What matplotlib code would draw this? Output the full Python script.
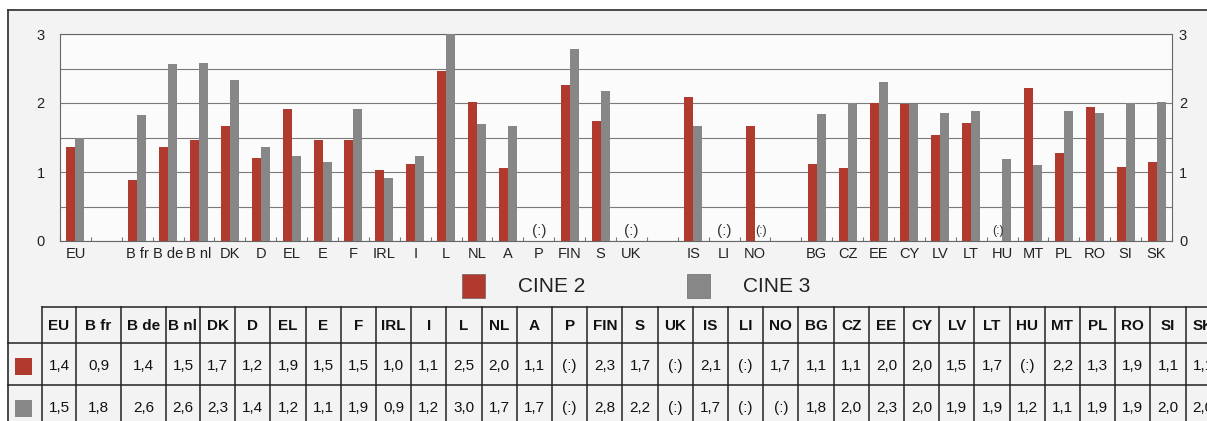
import matplotlib
matplotlib.use('Agg')
import matplotlib.pyplot as plt
import numpy as np
from matplotlib.patches import Rectangle
from matplotlib.lines import Line2D

plt.rcParams['font.family'] = ['Liberation Sans', 'DejaVu Sans']

# ---------------- data ----------------
group_eu = ['EU']
group_eu_members = ['B fr', 'B de', 'B nl', 'DK', 'D', 'EL', 'E', 'F', 'IRL', 'I',
                    'L', 'NL', 'A', 'P', 'FIN', 'S', 'UK']
group_efta = ['IS', 'LI', 'NO']
group_acc = ['BG', 'CZ', 'EE', 'CY', 'LV', 'LT', 'HU', 'MT', 'PL', 'RO', 'SI', 'SK']
groups = [group_eu, group_eu_members, group_efta, group_acc]
categories = [c for g in groups for c in g]

cine2 = [1.36,
         0.89, 1.36, 1.47, 1.66, 1.20, 1.92, 1.46, 1.46, 1.03, 1.12,
         2.46, 2.01, 1.06, None, 2.26, 1.74, None,
         2.09, None, 1.66,
         1.12, 1.06, 2.00, 1.99, 1.53, 1.71, None, 2.22, 1.27, 1.94, 1.07, 1.14]
cine3 = [1.49,
         1.83, 2.56, 2.58, 2.34, 1.36, 1.23, 1.14, 1.92, 0.91, 1.23,
         3.00, 1.69, 1.67, None, 2.78, 2.17, None,
         1.66, None, None,
         1.84, 2.00, 2.30, 1.99, 1.86, 1.88, 1.19, 1.10, 1.89, 1.86, 2.00, 2.01]
series_names = ['CINE 2', 'CINE 3']
series = [cine2, cine3]
yticks = [0, 1, 2, 3]
missing_label = '(:)'

# ---------------- style / layout ----------------
colors = ['#b03a2e', '#878787']
W, H = 1207, 421
fig = plt.figure(figsize=(W / 100, H / 100), dpi=100, facecolor='white')


def fx(x):
    return x / W


def fy(y):
    return 1 - y / H


# background panel with frame
fig.patches.append(Rectangle((fx(8), 0), 1.0, fy(10), transform=fig.transFigure,
                             facecolor='#f3f3f3', edgecolor='none', zorder=-5))
for (x1, y1, x2, y2) in [(8, 10, 1210, 10), (8, 10, 8, 425)]:
    fig.add_artist(Line2D([fx(x1), fx(x2)], [fy(y1), fy(y2)], transform=fig.transFigure,
                          color='#3a3a3a', lw=1.3))

# slot positions (one empty slot between groups)
pos = []
s = 0
for g in groups:
    for _ in g:
        pos.append(s)
        s += 1
    s += 1
pos = np.array(pos, dtype=float)
nslots = s - 1

ax = fig.add_axes([fx(60), fy(241), fx(1172) - fx(60), fy(34) - fy(241)])
ax.set_zorder(2)
ax.set_facecolor('#fbfbfb')
ax.set_xlim(-0.5, nslots - 0.5)
ax.set_ylim(0, 3)

w = 0.29
offsets = [-w / 2, w / 2]
for vals, col, off in zip(series, colors, offsets):
    xs = [p + off for p, v in zip(pos, vals) if v is not None]
    hs = [v for v in vals if v is not None]
    ax.bar(xs, hs, w, color=col, edgecolor='none', zorder=3)

# missing markers
for p, a, b in zip(pos, cine2, cine3):
    if a is None and b is None:
        ax.text(p, 0.15, missing_label, ha='center', va='center', fontsize=11, color='#333333', zorder=4)
    elif a is None:
        ax.text(p + offsets[0], 0.15, missing_label, ha='center', va='center', fontsize=9, color='#333333', zorder=4)
    elif b is None:
        ax.text(p + offsets[1] + 0.05, 0.15, missing_label, ha='center', va='center', fontsize=9, color='#333333', zorder=4)

ax.set_xticks(pos)
ax.set_xticklabels(categories, fontsize=10.5, color='#222222')
ax.set_xticks(np.arange(-0.5, nslots, 1.0), minor=True)
ax.tick_params(axis='x', which='major', length=0, pad=4)
ax.tick_params(axis='x', which='minor', direction='in', length=3, color='#777777', width=0.8)

ax.set_yticks(yticks)
ax.set_yticks(np.arange(0.5, 3, 1.0), minor=True)
ax.tick_params(axis='y', which='both', length=0)
ax.tick_params(axis='y', which='major', labelsize=10.5, labelcolor='#222222', pad=11)
ax.grid(axis='y', which='both', color='#7a7a7a', lw=0.8, zorder=1)
ax.set_axisbelow(True)
for sp in ax.spines.values():
    sp.set_color('#666666')
    sp.set_linewidth(0.8)

ax2 = ax.twinx()
ax2.set_ylim(0, 3)
ax2.set_yticks(yticks)
ax2.tick_params(axis='y', length=0, labelsize=10.5, labelcolor='#222222', pad=5)
for sp in ax2.spines.values():
    sp.set_visible(False)

# legend
leg_boxes = [(462, 274), (687, 274)]
leg_text_x = [518, 743]
for (bx, by), tx, name, col in zip(leg_boxes, leg_text_x, series_names, colors):
    fig.patches.append(Rectangle((fx(bx), fy(by + 24)), fx(23), 24 / H, transform=fig.transFigure,
                                 facecolor=col, edgecolor='#555555', lw=0.4, zorder=3))
    fig.text(fx(tx), fy(286), name, fontsize=15, va='center', ha='left', color='#222222')

# data table
colw = [34, 45, 45, 34] + [35.2] * (len(categories) - 4)
edges = [42.0]
for cw in colw:
    edges.append(edges[-1] + cw)
y_top, y_h1, y_r1, y_bot = 307, 343, 385, 430
tcol = '#222222'
lines = [(42, y_top, 1220, y_top), (8, y_h1, 1220, y_h1), (8, y_r1, 1220, y_r1)]
for e in edges:
    lines.append((e, y_top, e, y_bot))
for (x1, y1, x2, y2) in lines:
    fig.add_artist(Line2D([fx(x1), fx(x2)], [fy(y1), fy(y2)], transform=fig.transFigure,
                          color=tcol, lw=1.1))


def fmt(v):
    return missing_label if v is None else f'{v:.1f}'.replace('.', ',')


row_y = [366, 408]
for i, c in enumerate(categories):
    cx = (edges[i] + edges[i + 1]) / 2
    fig.text(fx(cx), fy(326), c, fontsize=11, fontweight='bold', ha='center', va='center', color='#111111')
    for vals, ry in zip(series, row_y):
        fig.text(fx(cx), fy(ry), fmt(vals[i]), fontsize=11, ha='center', va='center', color='#111111')

for col, ry in zip(colors, row_y):
    fig.patches.append(Rectangle((fx(15), fy(ry + 8.5)), fx(17), 17 / H, transform=fig.transFigure,
                                 facecolor=col, edgecolor='none', zorder=3))

fig.savefig('out.png', dpi=100, facecolor=fig.get_facecolor())
